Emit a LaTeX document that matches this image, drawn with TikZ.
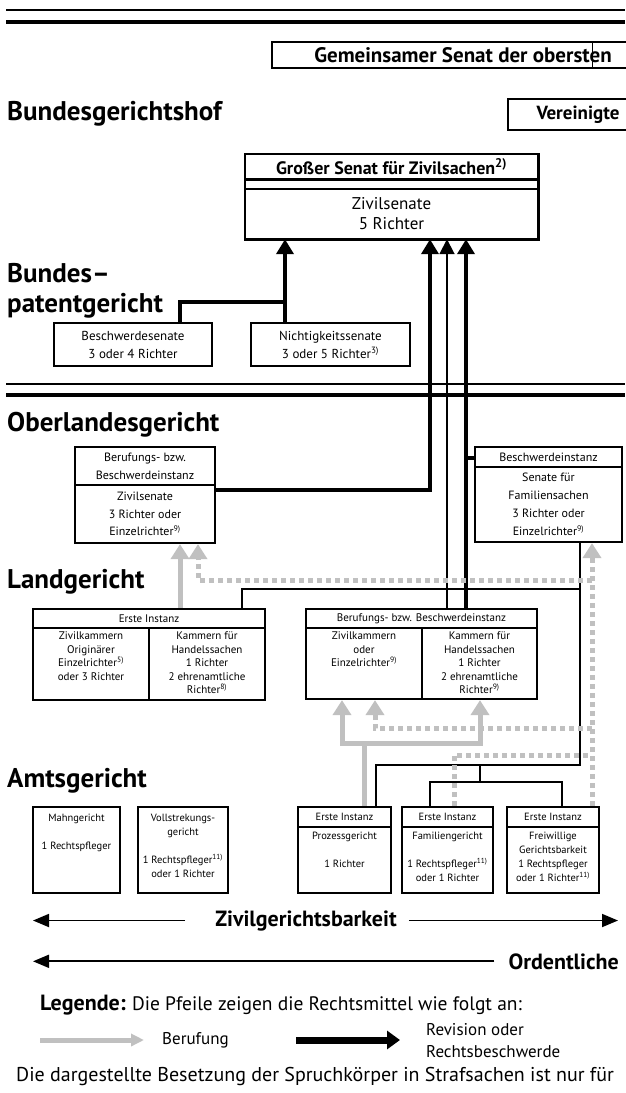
\documentclass[tikz,border=0pt]{standalone}
\usepackage{fontspec}
\setmainfont{PT Sans}
\usepackage{tikz}
\usetikzlibrary{arrows.meta}
\usetikzlibrary{positioning}

\definecolor{berufgrau}{RGB}{192,192,192}

\tikzset{
  kasten/.style={draw, line width=2.2pt, rectangle, inner sep=0pt, align=center},
  gericht/.style={anchor=base west, inner sep=0pt, font=\fontsize{27}{30}\selectfont\bfseries},
  zelltext/.style={anchor=north, inner sep=0pt, align=center},
  klein/.style={font=\fontsize{11}{13.5}\selectfont},
  amt/.style={font=\fontsize{10.5}{14}\selectfont},
  revdick/.style={line width=4.5pt, -{Triangle[length=15pt,width=17pt]}},
  revduenn/.style={line width=1.8pt},
  beruf/.style={berufgrau, line width=5pt, -{Triangle[length=15pt,width=18pt]}},
  berufpunkt/.style={beruf, dash pattern=on 5pt off 4pt},
  graupunkt/.style={berufgrau, line width=5pt, dash pattern=on 5pt off 4pt},
  zivpfeil/.style={line width=1.8pt, -{Triangle[length=16pt,width=13pt]}},
}

\begin{document}
\begin{tikzpicture}[x=1pt, y=-1pt]
\useasboundingbox (0,0) rectangle (625,1093);

% Trennlinien
\draw[line width=1.6pt] (6,10) -- (625,10);
\draw[line width=3.6pt] (6,22) -- (625,22);
\draw[line width=1.6pt] (6,384) -- (625,384);
\draw[line width=3.6pt] (6,395) -- (625,395);

% Bundesgerichtshof
\node[kasten, minimum width=382pt, minimum height=26pt, font=\fontsize{21}{25}\selectfont\bfseries] (gms) at (463,55) {Gemeinsamer Senat der obersten};
\coordinate (strich) at (592,0);
\draw[line width=0.8pt] ([yshift=-2pt]gms.north -| strich) -- ([yshift=1pt]gms.south -| strich);
\node[kasten, minimum width=140pt, minimum height=31pt, font=\fontsize{19}{22}\selectfont\bfseries] (vs) at (578,114.5) {Vereinigte};

\node[gericht] (bgh) at (7,120) {Bundesgerichtshof};
\node[inner sep=0pt, minimum width=293pt, minimum height=25pt, font=\fontsize{18}{20}\selectfont\bfseries] (gsKopf) at (391.5,166.5) {Großer Senat für Zivilsachen\textsuperscript{2)}};
\node[inner sep=0pt, align=center, minimum width=293pt, minimum height=50pt, font=\fontsize{17}{20}\selectfont] (gsZiv) at (391.5,214) {Zivilsenate\\5 Richter};
\draw[line width=2.6pt] (gsKopf.north west) rectangle (gsZiv.south east);
\draw[line width=2.6pt] (gsKopf.south west) -- (gsKopf.south east);
\draw[line width=2.6pt] (gsZiv.north west) -- (gsZiv.north east);

% Bundespatentgericht
\node[gericht] (bpg1) at (7,282) {Bundes–};
\node[gericht] (bpg2) at (7,312) {patentgericht};
\node[kasten, minimum width=158pt, minimum height=43pt, font=\fontsize{13}{18}\selectfont] (bsen) at (133,344.5) {Beschwerdesenate\\3 oder 4 Richter};
\node[kasten, minimum width=159pt, minimum height=43pt, font=\fontsize{13}{18}\selectfont] (nsen) at (330.5,344.5) {Nichtigkeitssenate\\3 oder 5 Richter\textsuperscript{3)}};

% Oberlandesgericht
\node[gericht] (olg) at (7,431) {Oberlandesgericht};
\node[kasten, minimum width=140pt, minimum height=38pt, font=\fontsize{12}{18}\selectfont] (olgLK) at (145,466) {Berufungs- bzw.\\Beschwerdeinstanz};
\node[kasten, minimum width=140pt, minimum height=58pt, font=\fontsize{12}{17.5}\selectfont] (olgLZ) at (145,514) {Zivilsenate\\3 Richter oder\\Einzelrichter\textsuperscript{9)}};
\node[kasten, minimum width=147pt, minimum height=20pt, font=\fontsize{12}{18}\selectfont] (olgRK) at (548.5,457) {Beschwerdeinstanz};
\node[kasten, minimum width=147pt, minimum height=75pt, font=\fontsize{12}{18}\selectfont] (olgRZ) at (548.5,504.5) {Senate für\\Familiensachen\\3 Richter oder\\Einzelrichter\textsuperscript{9)}};

% Landgericht
\node[gericht] (lg) at (7,588) {Landgericht};
\node[kasten, klein, minimum width=232pt, minimum height=19pt] (lgEK) at (149,618.5) {Erste Instanz};
\node[kasten, minimum width=116pt, minimum height=72pt] (lgE1) at (91,664) {};
\node[kasten, minimum width=116pt, minimum height=72pt] (lgE2) at (207,664) {};
\node[zelltext, klein, below=5pt of lgE1.north] (lgE1t) {Zivilkammern\\Originärer\\Einzelrichter\textsuperscript{5)}\\oder 3 Richter};
\node[zelltext, klein, below=5pt of lgE2.north] (lgE2t) {Kammern für\\Handelssachen\\1 Richter\\2 ehrenamtliche\\Richter\textsuperscript{8)}};
\node[kasten, klein, minimum width=231pt, minimum height=19pt] (lgBK) at (421.5,618.5) {Berufungs- bzw. Beschwerdeinstanz};
\node[kasten, minimum width=116pt, minimum height=71pt] (lgB1) at (364,663.5) {};
\node[kasten, minimum width=115pt, minimum height=71pt] (lgB2) at (479.5,663.5) {};
\node[zelltext, klein, below=5pt of lgB1.north] (lgB1t) {Zivilkammern\\oder\\Einzelrichter\textsuperscript{9)}};
\node[zelltext, klein, below=5pt of lgB2.north] (lgB2t) {Kammern für\\Handelssachen\\1 Richter\\2 ehrenamtliche\\Richter\textsuperscript{9)}};

% Amtsgericht
\node[gericht] (ag) at (7,787) {Amtsgericht};
\node[kasten, minimum width=87pt, minimum height=86pt] (agM) at (76.5,850) {};
\node[zelltext, amt, below=8pt of agM.north] (agMt) {Mahngericht\\[14pt]1 Rechtspfleger};
\node[kasten, minimum width=90pt, minimum height=86pt] (agV) at (183,850) {};
\node[zelltext, amt, below=8pt of agV.north] (agVt) {Vollstrekungs-\\gericht\\[14pt]1 Rechtspfleger\textsuperscript{11)}\\oder 1 Richter};
\node[kasten, amt, minimum width=93pt, minimum height=20pt] (agPK) at (344.5,817) {Erste Instanz};
\node[kasten, minimum width=93pt, minimum height=66pt] (agPZ) at (344.5,860) {};
\node[zelltext, amt, below=6pt of agPZ.north] (agPt) {Prozessgericht\\[14pt]1 Richter};
\node[kasten, amt, minimum width=91pt, minimum height=20pt] (agFaK) at (447.5,817) {Erste Instanz};
\node[kasten, minimum width=91pt, minimum height=66pt] (agFaZ) at (447.5,860) {};
\node[zelltext, amt, below=6pt of agFaZ.north] (agFat) {Familiengericht\\[14pt]1 Rechtspfleger\textsuperscript{11)}\\oder 1 Richter};
\node[kasten, amt, minimum width=92pt, minimum height=20pt] (agFrK) at (553,817) {Erste Instanz};
\node[kasten, minimum width=92pt, minimum height=66pt] (agFrZ) at (553,860) {};
\node[zelltext, amt, below=6pt of agFrZ.north] (agFrt) {Freiwillige\\Gerichtsbarkeit\\1 Rechtspfleger\\oder 1 Richter\textsuperscript{11)}};

% Berufung (grau)
\coordinate (b1) at (180,0);
\draw[beruf] (lgEK.north -| b1) -- (olgLZ.south -| b1);
\coordinate (b2) at (364,743);
\coordinate (b3) at (342,743);
\coordinate (b4) at (480,743);
\draw[beruf, -] (agPK.north -| b2) -- (b2);
\draw[beruf] (b2) -- (b3) -- (lgB1.south -| b3);
\draw[beruf] (b2) -- (b4) -- (lgB2.south -| b4);

% Revision / Rechtsbeschwerde (schwarz)
\coordinate (p1) at (180,302);
\coordinate (p2) at (285,302);
\draw[revdick, -] (bsen.north -| p1) -- (p1) -- (p2);
\draw[revdick] (nsen.north -| p2) -- (gsZiv.south -| p2);
\coordinate (k1) at (430,490);
\draw[revdick] (olgLZ.east |- k1) -- (k1) -- (gsZiv.south -| k1);
\coordinate (k2) at (447,0);
\draw[revduenn, -{Triangle[length=15pt,width=15pt]}] (lgBK.north -| k2) -- (gsZiv.south -| k2);
\coordinate (k3) at (466,458);
\draw[revdick] (lgBK.north -| k3) -- (gsZiv.south -| k3);
\draw[line width=4.5pt] (k3) -- (olgRK.west |- k3);

\coordinate (t1) at (242,589);
\coordinate (t2) at (580,589);
\coordinate (t3) at (580,765);
\coordinate (t4) at (376,765);
\coordinate (t5) at (480,765);
\coordinate (t6) at (480,782);
\coordinate (t7) at (430,782);
\coordinate (t8) at (562,782);
\draw[revduenn] (lgEK.north -| t1) -- (t1) -- (t2);
\draw[revduenn] (olgRZ.south -| t2) -- (t3) -- (t4) -- (agPK.north -| t4);
\draw[revduenn] (t5) -- (t6);
\draw[revduenn] (agFaK.north -| t7) -- (t7) -- (t8) -- (agFrK.north -| t8);

% Beschwerde (grau gepunktet)
\coordinate (d1) at (592,0);
\draw[berufpunkt] (agFrK.north -| d1) -- (olgRZ.south -| d1);
\coordinate (d2) at (592,580);
\coordinate (d3) at (198,580);
\draw[berufpunkt] (d2) -- (d3) -- (olgLZ.south -| d3);
\coordinate (d4) at (592,728);
\coordinate (d5) at (375,728);
\draw[berufpunkt] (d4) -- (d5) -- (lgB1.south -| d5);
\coordinate (d6) at (454,755);
\coordinate (d7) at (592,755);
\draw[graupunkt] (agFaK.north -| d6) -- (d6) -- (d7);

% Gerichtsbarkeit
\node[anchor=base, inner sep=0pt, font=\fontsize{22}{26}\selectfont\bfseries] (zgb) at (306,926) {Zivilgerichtsbarkeit};
\coordinate (zl) at (33,0);
\coordinate (zr) at (618,0);
\draw[zivpfeil] ([xshift=-30pt]zgb.west) -- (zgb.west -| zl);
\draw[zivpfeil] ([xshift=12pt]zgb.east) -- (zgb.east -| zr);
\node[anchor=base east, inner sep=0pt, font=\fontsize{22}{26}\selectfont\bfseries] (ord) at (619,969) {Ordentliche};
\draw[zivpfeil] ([xshift=-14pt]ord.west) -- (ord.west -| zl);

% Legende
\node[anchor=base west, inner sep=0pt, font=\fontsize{22}{25}\selectfont\bfseries] (leg) at (40,1010) {Legende:};
\node[right=6pt of leg.base east, anchor=base west, inner sep=0pt, font=\fontsize{19.5}{24}\selectfont] (legtext) {Die Pfeile zeigen die Rechtsmittel wie folgt an:};
\node[anchor=west, inner sep=0pt, font=\fontsize{17}{22}\selectfont] (lberuf) at (162,1040) {Berufung};
\node[anchor=west, inner sep=0pt, align=left, font=\fontsize{17}{22}\selectfont] (lrev) at (426,1041) {Revision oder\\Rechtsbeschwerde};
\coordinate (lg1) at (40,1040);
\coordinate (lg2) at (296,1040);
\draw[berufgrau, line width=5pt, -{Triangle[length=13pt,width=12pt]}] (lg1) -- ([xshift=-18pt]lberuf.west);
\draw[line width=7pt, -{Triangle[length=13pt,width=18pt]}] (lg2) -- ([xshift=-26pt]lrev.west |- lg2);
\node[anchor=base west, inner sep=0pt, font=\fontsize{20}{24}\selectfont] (hinweis) at (16,1081) {Die dargestellte Besetzung der Spruchkörper in Strafsachen ist nur für};
\end{tikzpicture}
\end{document}
